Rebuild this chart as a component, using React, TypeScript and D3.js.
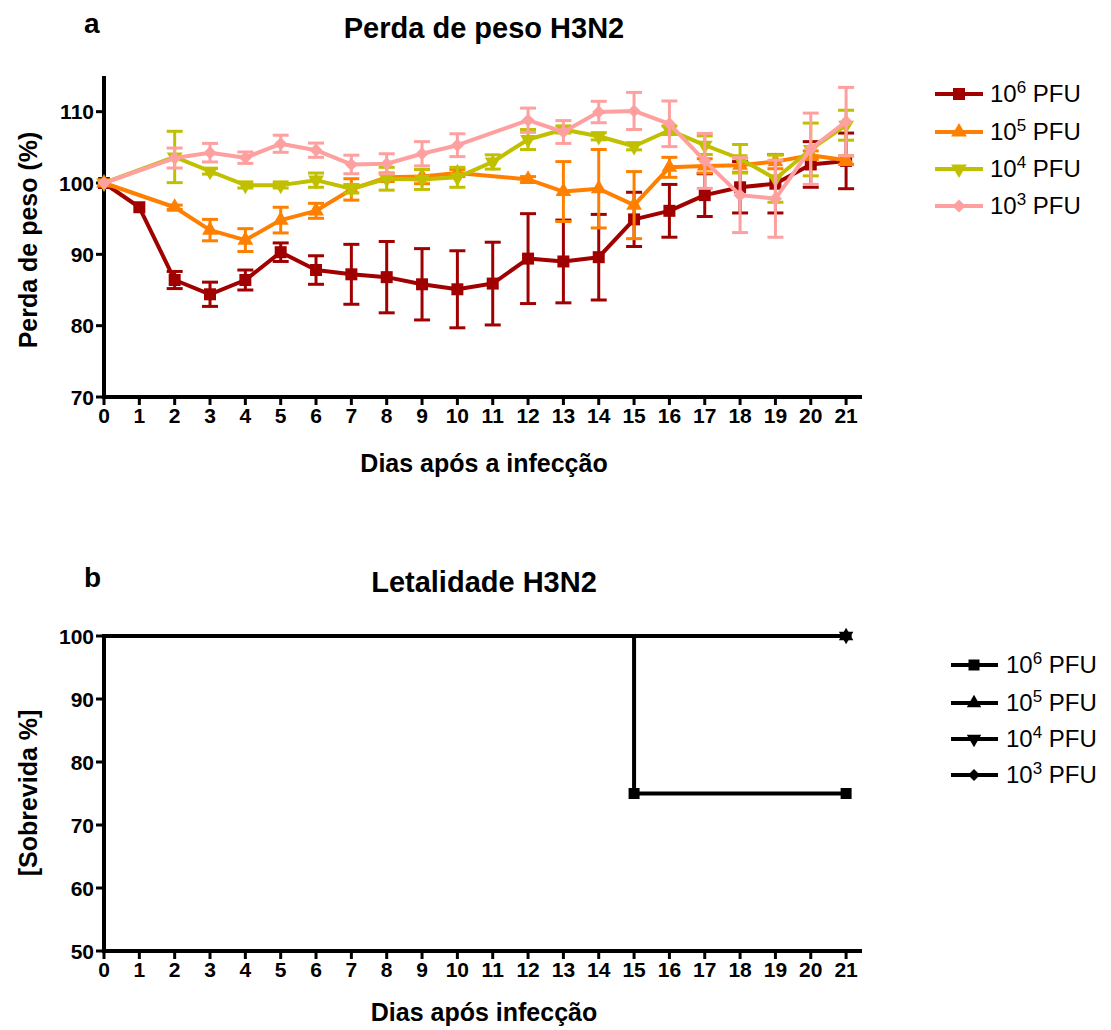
import React from "react";
import * as d3 from "d3";

// Days after infection (shared by both panels)
const days = [0, 1, 2, 3, 4, 5, 6, 7, 8, 9, 10, 11, 12, 13, 14, 15, 16, 17, 18, 19, 20, 21];
const dayTicks = days;

// Panel a: mean body weight (%) and SEM per dose group; null = no measurement
const pfu6Mean = [100, 96.6, 86.4, 84.4, 86.4, 90.3, 87.8, 87.2, 86.8, 85.8, 85.1, 85.9, 89.4, 89.0, 89.6, 94.9, 96.1, 98.3, 99.4, 99.9, 102.6, 103.1];
const pfu6Sem = [0, 0, 1.2, 1.7, 1.4, 1.3, 2.0, 4.2, 5.0, 5.0, 5.4, 5.8, 6.3, 5.8, 6.0, 3.8, 3.7, 3.0, 3.6, 4.1, 3.2, 3.9];
const pfu5Mean = [100, null, 96.6, 93.4, 92.0, 94.8, 96.1, 99.1, 100.8, 100.9, 101.4, null, 100.5, 98.8, 99.2, 96.9, 102.2, 102.4, 102.5, 103.0, 103.9, 103.2];
const pfu5Sem = [0, null, 0.3, 1.5, 1.6, 1.8, 1.05, 1.5, 0.6, 1.0, 0.5, null, 0.4, 4.2, 5.5, 4.7, 1.4, 1.0, 1.0, 1.0, 0.6, 0.6];
const pfu4Mean = [100, null, 103.65, 101.65, 99.7, 99.7, 100.4, 99.2, 100.6, 100.5, 100.8, 102.95, 106.1, 107.5, 106.55, 105.15, 107.4, 105.3, 103.4, 100.6, 104.7, 108.1];
const pfu4Sem = [0, null, 3.6, 0.4, 0.4, 0.4, 1.0, 0.6, 1.6, 1.4, 1.4, 1.0, 1.4, 0.5, 0.5, 0.5, 0.6, 1.3, 2.0, 3.3, 3.7, 2.1];
const pfu3Mean = [100, null, 103.5, 104.25, 103.55, 105.5, 104.6, 102.6, 102.7, 104.1, 105.3, null, 108.8, 107.15, 109.95, 110.1, 108.3, 103.1, 98.3, 97.8, 104.8, 108.6];
const pfu3Sem = [0, null, 1.4, 1.3, 0.8, 1.2, 1.0, 1.3, 1.4, 1.7, 1.6, null, 1.7, 1.6, 1.5, 2.6, 3.2, 3.85, 5.25, 5.4, 5.0, 4.8];
const weightTicks = [70, 80, 90, 100, 110];

// Panel b: survival (%) steps; marker days are the event/censoring points
const surv6Days = [0, 15, 21];
const surv6Vals = [100, 75, 75];
const surv5Days = [0, 21];
const surv5Vals = [100, 100];
const surv4Days = [0, 21];
const surv4Vals = [100, 100];
const surv3Days = [0, 21];
const surv3Vals = [100, 100];
const survTicks = [50, 60, 70, 80, 90, 100];

const doseLabels = ["6", "5", "4", "3"];
const doseColors = ["#a00000", "#ff8000", "#c0c000", "#ffa0a0"];
const doseShapes = ["square", "up", "down", "diamond"];

const FONT = "'Liberation Sans', Arial, Helvetica, sans-serif";

function markerPath(shape: string, s: number) {
  if (shape === "square") return d3.symbol(d3.symbolSquare, s * s)()!;
  if (shape === "diamond") return d3.symbol(d3.symbolSquare, s * s * 0.6)()!;
  return d3.symbol(d3.symbolTriangle, s * s * 0.75)()!;
}
function markerTransform(shape: string, x: number, y: number) {
  if (shape === "down") return `translate(${x},${y}) rotate(180)`;
  if (shape === "diamond") return `translate(${x},${y}) rotate(45)`;
  return `translate(${x},${y})`;
}

const x = d3.scaleLinear().domain([0, 21.45]).range([104, 862]);
const yW = d3.scaleLinear().domain([70, 115]).range([397, 76]);
const yS = d3.scaleLinear().domain([50, 100]).range([951, 636]);

function Axes({ y, ticks, yBottom, yTop }: any) {
  return (
    <g>
      <line x1={104} x2={862} y1={yBottom} y2={yBottom} stroke="#000" strokeWidth={4} />
      <line x1={104} x2={104} y1={yTop} y2={yBottom + 2} stroke="#000" strokeWidth={4} />
      {ticks.map((t: number) => (
        <g key={"y" + t}>
          <line x1={96} x2={104} y1={y(t)} y2={y(t)} stroke="#000" strokeWidth={3} />
          <text x={94} y={y(t) + 7.5} textAnchor="end" fontFamily={FONT} fontWeight="bold" fontSize={21}>
            {t}
          </text>
        </g>
      ))}
      {dayTicks.map((d) => (
        <g key={"x" + d}>
          <line x1={x(d)} x2={x(d)} y1={yBottom} y2={yBottom + 8} stroke="#000" strokeWidth={3} />
          <text x={x(d)} y={yBottom + 26} textAnchor="middle" fontFamily={FONT} fontWeight="bold" fontSize={21}>
            {d}
          </text>
        </g>
      ))}
    </g>
  );
}

function LegendLabel({ x0, y0, exp }: any) {
  return (
    <text x={x0} y={y0 + 8} fontFamily={FONT} fontSize={24}>
      10
      <tspan dy={-9} fontSize={17}>{exp}</tspan>
      <tspan dy={9}> PFU</tspan>
    </text>
  );
}

export default function App() {
  const means = [pfu6Mean, pfu5Mean, pfu4Mean, pfu3Mean];
  const sems = [pfu6Sem, pfu5Sem, pfu4Sem, pfu3Sem];
  const survD = [surv6Days, surv5Days, surv4Days, surv3Days];
  const survV = [surv6Vals, surv5Vals, surv4Vals, surv3Vals];

  const weightLine = d3
    .line<[number, number]>()
    .x((d) => x(d[0]))
    .y((d) => yW(d[1]));
  const survLine = d3
    .line<[number, number]>()
    .x((d) => x(d[0]))
    .y((d) => yS(d[1]))
    .curve(d3.curveStepAfter);

  const legendTopY = [94, 132, 169, 206];
  const legendBotY = [665, 703, 739, 775];

  return (
    <svg width={1111} height={1030} style={{ position: "absolute", left: 0, top: 0, background: "#fff" }}>
      <rect width={1111} height={1030} fill="#fff" />

      {/* Panel a */}
      <text x={84} y={33} fontFamily={FONT} fontWeight="bold" fontSize={28}>a</text>
      <text x={484} y={38} textAnchor="middle" fontFamily={FONT} fontWeight="bold" fontSize={29}>
        Perda de peso H3N2
      </text>
      <Axes y={yW} ticks={weightTicks} yBottom={397} yTop={76} />
      <text x={484} y={472} textAnchor="middle" fontFamily={FONT} fontWeight="bold" fontSize={25}>
        Dias após a infecção
      </text>
      <text transform="translate(37,240) rotate(-90)" textAnchor="middle" fontFamily={FONT} fontWeight="bold" fontSize={25}>
        Perda de peso (%)
      </text>

      {means.map((m, si) => {
        const pts = days
          .map((d, i) => [d, m[i], sems[si][i]] as [number, number | null, number | null])
          .filter((p) => p[1] !== null) as [number, number, number][];
        const color = doseColors[si];
        return (
          <g key={"s" + si}>
            {pts.map(([d, v, e]) =>
              e > 0.2 ? (
                <g key={"e" + d} stroke={color} strokeWidth={3}>
                  <line x1={x(d)} x2={x(d)} y1={yW(v + e)} y2={yW(v - e)} />
                  <line x1={x(d) - 8} x2={x(d) + 8} y1={yW(v + e)} y2={yW(v + e)} />
                  <line x1={x(d) - 8} x2={x(d) + 8} y1={yW(v - e)} y2={yW(v - e)} />
                </g>
              ) : null
            )}
            <path d={weightLine(pts.map((p) => [p[0], p[1]]))!} fill="none" stroke={color} strokeWidth={4} strokeLinejoin="round" />
            {pts.map(([d, v]) => (
              <path key={"m" + d} d={markerPath(doseShapes[si], 12)} transform={markerTransform(doseShapes[si], x(d), yW(v))} fill={color} />
            ))}
          </g>
        );
      })}

      {doseLabels.map((lab, i) => (
        <g key={"lt" + i}>
          <line x1={935} x2={983} y1={legendTopY[i]} y2={legendTopY[i]} stroke={doseColors[i]} strokeWidth={4} />
          <path d={markerPath(doseShapes[i], 12)} transform={markerTransform(doseShapes[i], 959, legendTopY[i])} fill={doseColors[i]} />
          <LegendLabel x0={990} y0={legendTopY[i]} exp={lab} />
        </g>
      ))}

      {/* Panel b */}
      <text x={84} y={587} fontFamily={FONT} fontWeight="bold" fontSize={28}>b</text>
      <text x={484} y={592} textAnchor="middle" fontFamily={FONT} fontWeight="bold" fontSize={29}>
        Letalidade H3N2
      </text>
      {survD.map((ds, si) => (
        <g key={"sv" + si}>
          <path d={survLine(ds.map((d, i) => [d, survV[si][i]]))!} fill="none" stroke="#000" strokeWidth={4} />
          {ds.map((d, i) =>
            d > 0 ? (
              <path key={"sm" + d} d={markerPath(doseShapes[si], 11)} transform={markerTransform(doseShapes[si], x(d), yS(survV[si][i]))} fill="#000" />
            ) : null
          )}
        </g>
      ))}
      <Axes y={yS} ticks={survTicks} yBottom={951} yTop={634} />
      <text x={484} y={1021} textAnchor="middle" fontFamily={FONT} fontWeight="bold" fontSize={25}>
        Dias após infecção
      </text>
      <text transform="translate(37,793) rotate(-90)" textAnchor="middle" fontFamily={FONT} fontWeight="bold" fontSize={25}>
        [Sobrevida %]
      </text>

      {doseLabels.map((lab, i) => (
        <g key={"lb" + i}>
          <line x1={951} x2={998} y1={legendBotY[i]} y2={legendBotY[i]} stroke="#000" strokeWidth={4} />
          <path d={markerPath(doseShapes[i], 11)} transform={markerTransform(doseShapes[i], 974, legendBotY[i])} fill="#000" />
          <LegendLabel x0={1006} y0={legendBotY[i]} exp={lab} />
        </g>
      ))}
    </svg>
  );
}
